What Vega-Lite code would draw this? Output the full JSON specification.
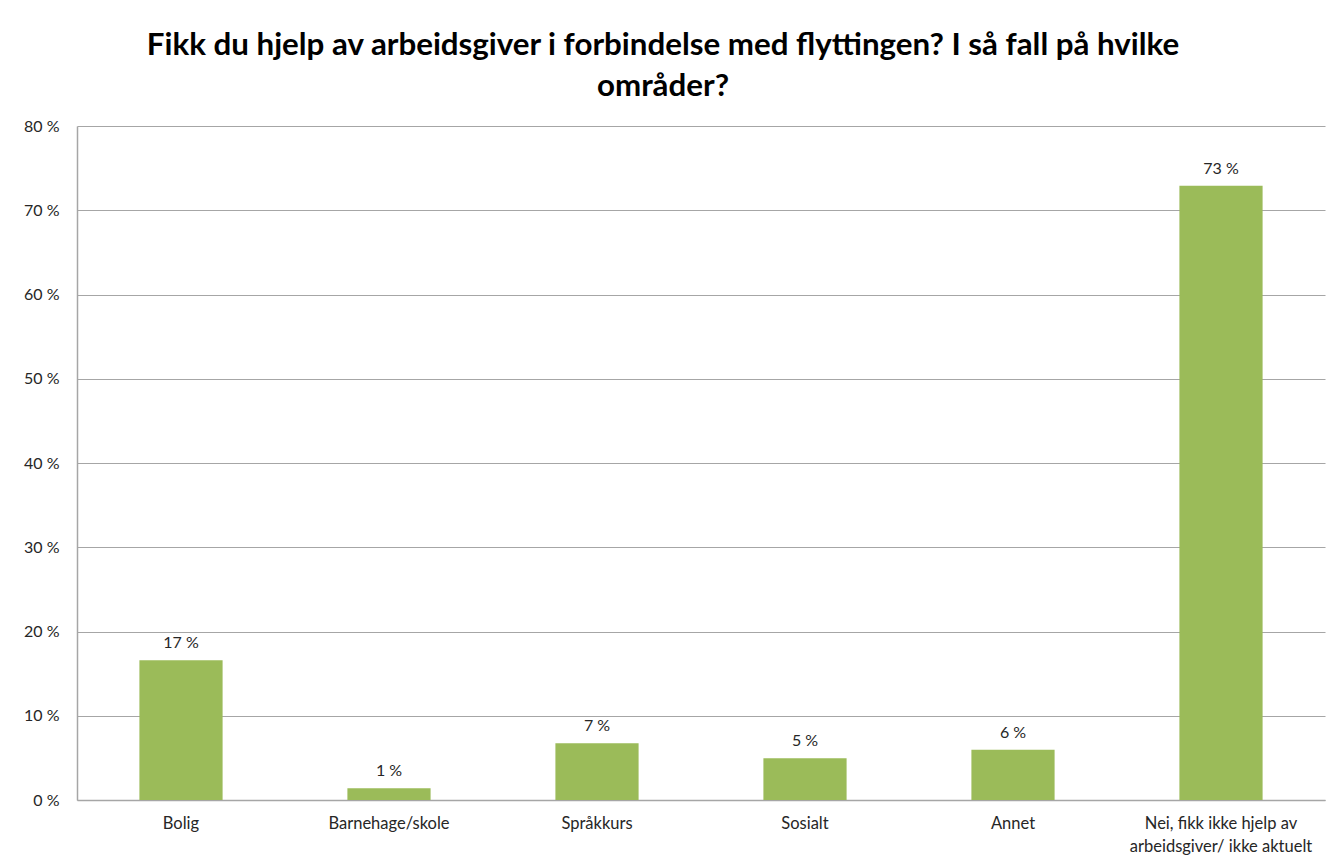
{
  "$schema": "https://vega.github.io/schema/vega-lite/v6.json",
  "autosize": "none",
  "width": 1248,
  "height": 674,
  "padding": {"left": 77, "top": 126, "right": 1, "bottom": 64},
  "background": "white",
  "title": {
    "text": ["Fikk du hjelp av arbeidsgiver i forbindelse med flyttingen? I så fall på hvilke", "områder?"],
    "font": "Lato",
    "fontSize": 31.3,
    "fontWeight": "bold",
    "color": "#000000",
    "anchor": "middle",
    "dx": -38,
    "offset": 16,
    "lineHeight": 41
  },
  "config": {
    "view": {"stroke": null},
    "locale": {
      "number": {"decimal": ",", "thousands": " ", "grouping": [3], "currency": ["", " kr"], "percent": " %"}
    }
  },
  "data": {
    "values": [
      {"kategori": "Bolig", "andel": 0.166},
      {"kategori": "Barnehage/skole", "andel": 0.014},
      {"kategori": "Språkkurs", "andel": 0.0675},
      {"kategori": "Sosialt", "andel": 0.0496},
      {"kategori": "Annet", "andel": 0.0595},
      {"kategori": "Nei, fikk ikke hjelp av arbeidsgiver/ ikke aktuelt", "andel": 0.729}
    ]
  },
  "encoding": {
    "x": {
      "field": "kategori",
      "type": "nominal",
      "sort": null,
      "scale": {"paddingInner": 0.6, "paddingOuter": 0.3},
      "axis": {
        "title": null,
        "labelAngle": 0,
        "labelFont": "Lato",
        "labelFontSize": 16.5,
        "labelColor": "#262626",
        "labelPadding": 15,
        "ticks": false,
        "domainColor": "#a6a6a6",
        "domainWidth": 1.5,
        "labelExpr": "datum.label == 'Nei, fikk ikke hjelp av arbeidsgiver/ ikke aktuelt' ? ['Nei, fikk ikke hjelp av', 'arbeidsgiver/ ikke aktuelt'] : datum.label",
        "labelLineHeight": 23,
        "labelLimit": 300
      }
    },
    "y": {
      "field": "andel",
      "type": "quantitative",
      "scale": {"domain": [0, 0.8], "nice": false},
      "axis": {
        "title": null,
        "format": ".0%",
        "values": [0, 0.1, 0.2, 0.3, 0.4, 0.5, 0.6, 0.7, 0.8],
        "labelFont": "Lato",
        "labelFontSize": 16,
        "labelColor": "#262626",
        "labelPadding": 18,
        "ticks": false,
        "domainColor": "#a6a6a6",
        "domainWidth": 1.5,
        "grid": true,
        "gridColor": "#a6a6a6",
        "gridWidth": 1.2
      }
    }
  },
  "layer": [
    {"mark": {"type": "bar", "color": "#9BBB59"}},
    {
      "mark": {"type": "text", "baseline": "bottom", "dy": -9, "font": "Lato", "fontSize": 16, "color": "#262626"},
      "encoding": {"text": {"field": "andel", "type": "quantitative", "format": ".0%"}}
    }
  ]
}
